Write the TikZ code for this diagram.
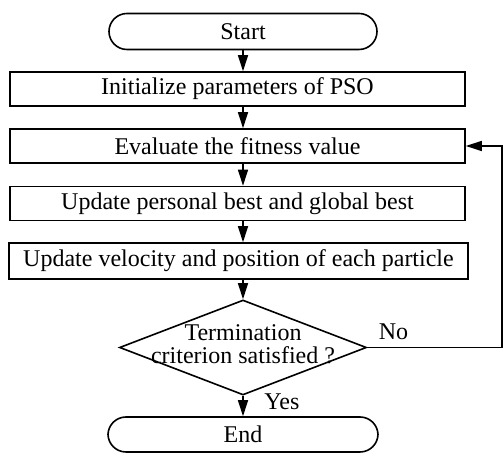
\documentclass[tikz,border=0pt]{standalone}
\usepackage{fontspec}
\setmainfont{Liberation Serif}
\usetikzlibrary{arrows.meta,positioning,calc,shapes.geometric}

\begin{document}
\begin{tikzpicture}[
  x=0.5pt,y=-0.5pt,
  box/.style={draw,line width=0.8pt,minimum width=227.5pt,minimum height=17pt,
              inner sep=0pt,font=\fontsize{12}{14}\selectfont},
  term/.style={draw,line width=0.8pt,rounded corners=9pt,minimum width=134pt,minimum height=18pt,
              inner sep=0pt,font=\fontsize{12}{14}\selectfont},
  decision/.style={draw,diamond,line width=0.8pt,minimum width=123.5pt,minimum height=47.5pt,
              inner sep=0pt},
  arr/.style={-{Triangle[length=8pt,width=5pt]},line width=0.8pt}
]
  \useasboundingbox (0,0) rectangle (504,453);

  % Nodes: terminals and decision on the arrow line, boxes a little to the left
  \node[term]     (start) at (243,31.5)  {Start};
  \node[box]      (init)  at (237.5,89)  {Initialize parameters of PSO};
  \node[box]      (eval)  at (237.5,146) {Evaluate the fitness value};
  \node[box]      (best)  at (237.5,203.5) {Update personal best and global best};
  \node[box,minimum width=229.5pt,minimum height=18pt] (move) at (238.5,261) {Update velocity and position of each particle};
  \node[decision] (dec)   at (243,347.5) {};
  \node[align=center,inner sep=0pt,font=\fontsize{12}{11.5}\selectfont] (decl) at (243,344) {Termination\\criterion satisfied ?};
  \node[term,minimum width=135pt,minimum height=17.5pt] (stop) at (243,434.5) {End};
  \coordinate (loop) at (502,0);

  % main line, top to bottom
  \draw[arr] (start.south) -- (init.north -| start);
  \draw[arr] (init.south -| start) -- (eval.north -| start);
  \draw[arr] (eval.south -| start) -- (best.north -| start);
  \draw[arr] (best.south -| start) -- (move.north -| start);
  \draw[arr] (move.south -| start) -- (dec.north);
  \draw[arr] (dec.south) -- node[right=7pt,pos=0.3,font=\fontsize{12}{14}\selectfont] {Yes} (stop.north);

  % No: back to the fitness evaluation
  \draw[arr] (dec.east) -- node[above right,pos=0,xshift=2pt,font=\fontsize{12}{14}\selectfont] {No}
    (dec.east -| loop) |- (eval.east);
\end{tikzpicture}
\end{document}
